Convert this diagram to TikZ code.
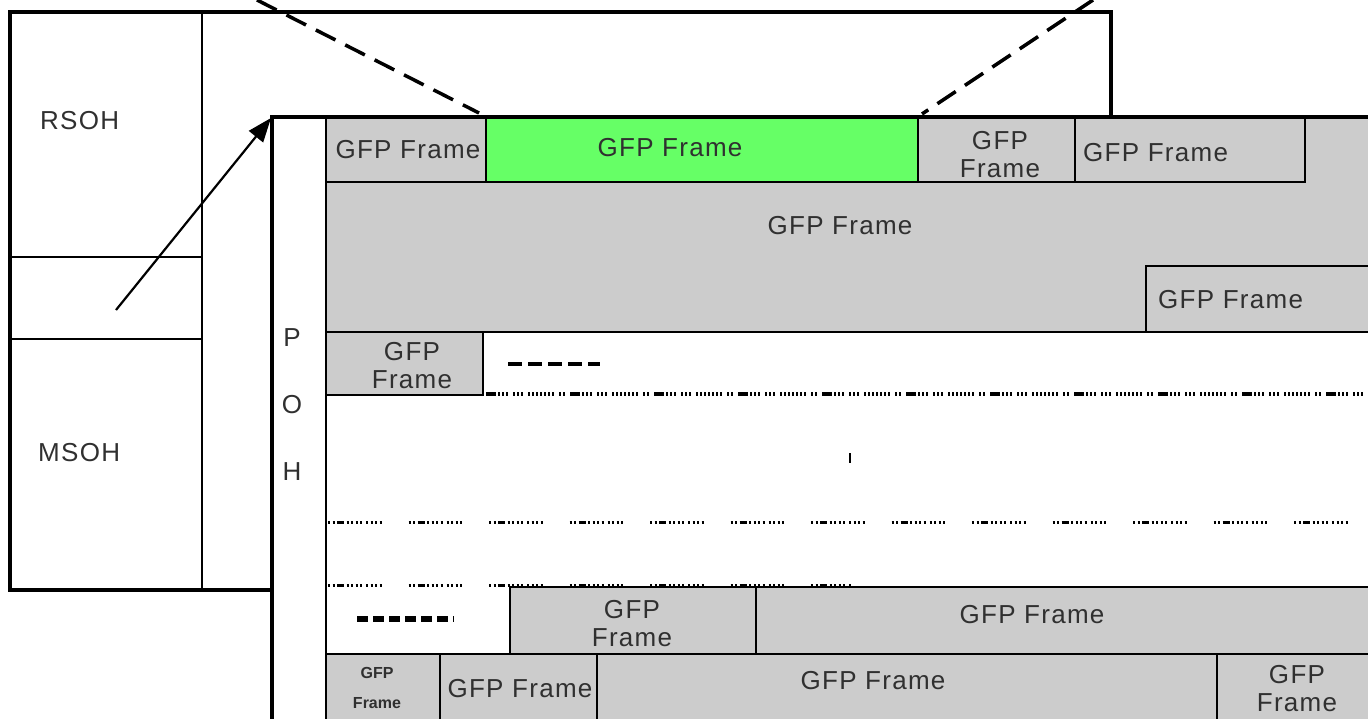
\documentclass[tikz,border=0pt]{standalone}
\usepackage{fontspec}
\setmainfont{Liberation Sans}
\usetikzlibrary{arrows.meta}
\definecolor{gfpgray}{HTML}{CCCCCC}
\definecolor{gfpgreen}{HTML}{66FF66}
\definecolor{txt}{HTML}{303030}
\tikzset{
  heavy/.style={line width=4pt},
  thin/.style={line width=1.5pt},
  gbox/.style={draw=black, line width=1.5pt, fill=gfpgray},
  greenbox/.style={draw=black, line width=1.5pt, fill=gfpgreen},
  lbl/.style={font=\fontsize{26}{28}\selectfont\addfontfeature{LetterSpace=5}, text=txt, inner sep=0pt, align=center},
  smalllbl/.style={font=\fontsize{16}{30}\selectfont\bfseries, text=txt, inner sep=0pt, align=center},
  zoomline/.style={line width=3.5pt, dash pattern=on 22pt off 11pt},
  dotA/.style={line width=3.5pt, dash pattern=on 10pt off 2pt on 2pt off 2pt on 2pt off 2pt on 2pt off 5pt on 2pt off 2pt on 2pt off 2pt on 2pt off 5pt on 2pt off 2pt on 2pt off 2pt on 2pt off 2pt on 2pt off 2pt on 2pt off 2pt on 2pt off 2pt on 2pt off 5pt on 2pt off 2pt on 2pt off 5pt},
  dotB/.style={line width=3pt, dash pattern=on 2pt off 2.5pt on 2pt off 2.5pt on 7pt off 2.5pt on 2pt off 2.5pt on 2pt off 2.5pt on 2pt off 2.5pt on 2pt off 4pt on 2pt off 2.5pt on 2pt off 2.5pt on 2pt off 2.5pt on 2pt off 27pt},
}
\begin{document}
\begin{tikzpicture}[x=1pt,y=-1pt]
\useasboundingbox (0,0) rectangle (1368,718);
\clip (0,0) rectangle (1368,718);
% ---------------- outer STM frame ----------------
\draw[thin] (202,12) -- (202,590);
\draw[thin] (10,257) -- (202,257) (10,339) -- (202,339);
\draw[heavy] (10,12) rectangle (1111,590);
\node[lbl, anchor=west] (rsoh) at (40,121) {RSOH};
\node[lbl, anchor=west] (msoh) at (38,453) {MSOH};
% ---------------- inner VC frame ----------------
\fill[white] (272,117) rectangle (1400,740);
\fill[gfpgray] (326,117) rectangle (1400,332);
\draw[thin] (326,117) -- (326,740);
\draw[thin] (483,332) -- (1400,332);
% row 1
\draw[gbox] (326,117) rectangle (486,182);
\draw[greenbox] (486,117) rectangle (918,182);
\draw[gbox] (918,117) rectangle (1075,182);
\draw[gbox] (1075,117) rectangle (1305,182);
\node[lbl] (f1) at (408,150) {GFP Frame};
\node[lbl] (fg) at (670,148) {GFP Frame};
\node[lbl] (f2) at (1000,155) {GFP\\Frame};
\node[lbl, anchor=west] (f3) at (1083,153) {GFP Frame};
% big area
\node[lbl] (f4) at (840,226) {GFP Frame};
\draw[gbox] (1146,266) rectangle (1400,332);
\node[lbl, anchor=west] (f5) at (1158,300) {GFP Frame};
% row 3
\draw[gbox] (326,332) rectangle (483,395);
\node[lbl] (f6) at (412,366) {GFP\\Frame};
% POH letters
\node[lbl] (pp) at (292,338) {P};
\node[lbl] (po) at (292,405) {O};
\node[lbl] (ph) at (292,472) {H};
% dotted / dashed filler lines
\coordinate (dsA) at (508,364);
\coordinate (dsB) at (600,364);
\draw[line width=4.5pt, dash pattern=on 14pt off 6pt] (dsA) -- (dsB);
\coordinate (lA1) at (486,394);
\coordinate (lA2) at (1368,394);
\draw[dotA] (lA1) -- (lA2);
\coordinate (tk1) at (850,453);
\coordinate (tk2) at (850,463);
\draw[line width=2.5pt] (tk1) -- (tk2);
\coordinate (lB1) at (328,522);
\coordinate (lB2) at (1368,522);
\draw[dotB] (lB1) -- (lB2);
% bottom rows
\draw[gbox] (510,587) rectangle (756,654);
\draw[gbox] (756,587) rectangle (1400,654);
\coordinate (lC1) at (328,585);
\coordinate (lC2) at (852,585);
\draw[dotB] (lC1) -- (lC2);
\node[lbl] (f7) at (632,624) {GFP\\Frame};
\node[lbl] (f8) at (1032,615) {GFP Frame};
\coordinate (dsC) at (357,619);
\coordinate (dsD) at (454,619);
\draw[line width=5.5pt, dash pattern=on 11pt off 5pt] (dsC) -- (dsD);
\draw[gbox] (326,654) rectangle (440,740);
\draw[gbox] (440,654) rectangle (597,740);
\draw[gbox] (597,654) rectangle (1217,740);
\draw[gbox] (1217,654) rectangle (1400,740);
\node[smalllbl] (f9) at (377,688) {GFP\\Frame};
\node[lbl] (f10) at (520,689) {GFP Frame};
\node[lbl] (f11) at (873,681) {GFP Frame};
\node[lbl] (f12) at (1297,689) {GFP\\Frame};
% inner frame border
\draw[heavy] (272,740) -- (272,117) -- (1400,117);
% ---------------- zoom lines and arrow ----------------
\coordinate (zA) at (257,0);
\coordinate (zAe) at (479,113);
\coordinate (zB) at (1093,0);
\coordinate (zBe) at (922,114);
\draw[zoomline] (zA) -- (zAe);
\draw[zoomline] (zB) -- (zBe);
\coordinate (arS) at (116,310);
\coordinate (arE) at (271,118);
\draw[line width=2.2pt, -{Triangle[length=24pt,width=18pt]}] (arS) -- (arE);
\end{tikzpicture}
\end{document}
